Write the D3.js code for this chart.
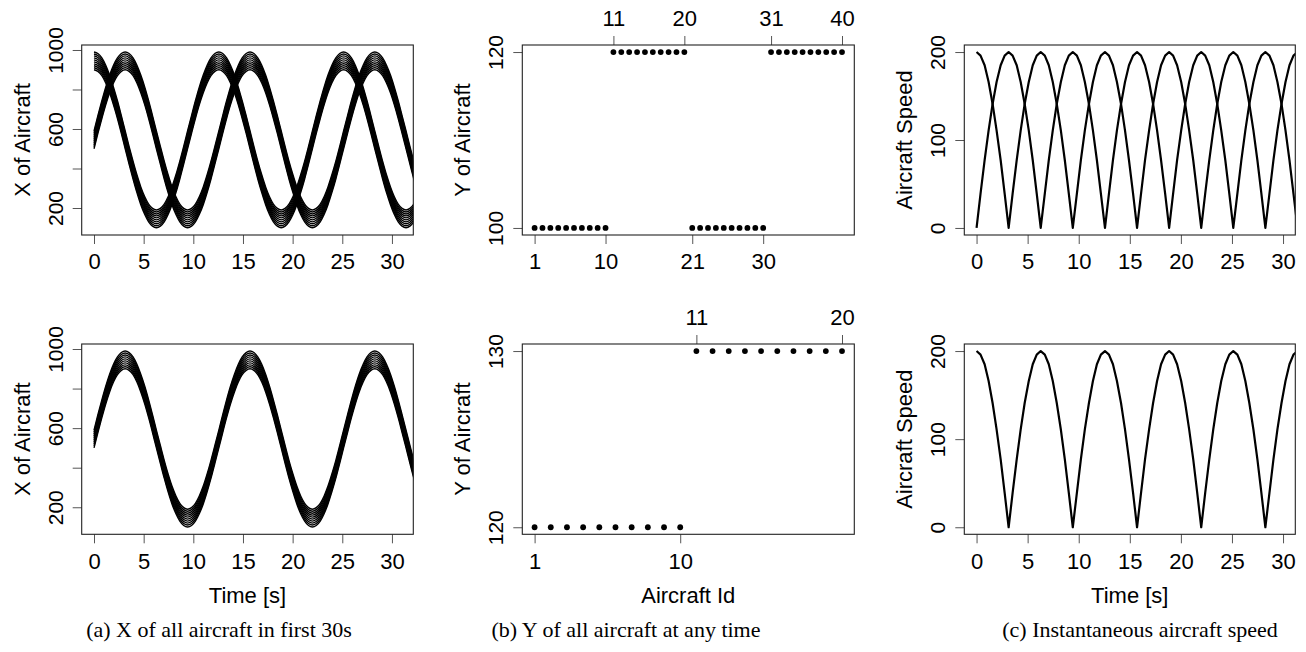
<!DOCTYPE html>
<html>
<head>
<meta charset="utf-8">
<script src="https://cdn.jsdelivr.net/npm/d3@7/dist/d3.min.js"></script>
<style>
  body { margin: 0; background: #fff; }
  svg { display: block; }
  .caption { font-family: "Liberation Serif", "DejaVu Serif", serif; font-size: 22px; }
</style>
</head>
<body>
<svg id="chart" width="1306" height="652"></svg>
<script>
// sample times [s] (one sample every pi/8 s)
const timeSec = [0.00, 0.39, 0.79, 1.18, 1.57, 1.96, 2.36, 2.75, 3.14, 3.53, 3.93, 4.32, 4.71, 5.11, 5.50, 5.89,
  6.28, 6.68, 7.07, 7.46, 7.85, 8.25, 8.64, 9.03, 9.42, 9.82, 10.21, 10.60, 11.00, 11.39, 11.78, 12.17,
  12.57, 12.96, 13.35, 13.74, 14.14, 14.53, 14.92, 15.32, 15.71, 16.10, 16.49, 16.89, 17.28, 17.67, 18.06, 18.46,
  18.85, 19.24, 19.63, 20.03, 20.42, 20.81, 21.21, 21.60, 21.99, 22.38, 22.78, 23.17, 23.56, 23.95, 24.35, 24.74,
  25.13, 25.53, 25.92, 26.31, 26.70, 27.10, 27.49, 27.88, 28.27, 28.67, 29.06, 29.45, 29.85, 30.24, 30.63, 31.02,
  31.42, 31.81, 32.20, 32.59];

// X swing around the start position, band that starts rising
const swingRise = [0, 78, 153, 222, 283, 333, 370, 392, 400, 392, 370, 333, 283, 222, 153, 78,
  0, -78, -153, -222, -283, -333, -370, -392, -400, -392, -370, -333, -283, -222, -153, -78,
  0, 78, 153, 222, 283, 333, 370, 392, 400, 392, 370, 333, 283, 222, 153, 78,
  0, -78, -153, -222, -283, -333, -370, -392, -400, -392, -370, -333, -283, -222, -153, -78,
  0, 78, 153, 222, 283, 333, 370, 392, 400, 392, 370, 333, 283, 222, 153, 78,
  0, -78, -153, -222];
// X swing, band that starts at the top
const swingFall = [400, 392, 370, 333, 283, 222, 153, 78, 0, -78, -153, -222, -283, -333, -370, -392,
  -400, -392, -370, -333, -283, -222, -153, -78, 0, 78, 153, 222, 283, 333, 370, 392,
  400, 392, 370, 333, 283, 222, 153, 78, 0, -78, -153, -222, -283, -333, -370, -392,
  -400, -392, -370, -333, -283, -222, -153, -78, 0, 78, 153, 222, 283, 333, 370, 392,
  400, 392, 370, 333, 283, 222, 153, 78, 0, -78, -153, -222, -283, -333, -370, -392,
  -400, -392, -370, -333];
// start X of the aircraft inside one band
const startX = [500, 510, 520, 530, 540, 550, 560, 570, 580, 590];

// speed of the rising band / of the falling band
const speedRise = [200, 196, 185, 166, 141, 111, 77, 39, 0, 39, 77, 111, 141, 166, 185, 196,
  200, 196, 185, 166, 141, 111, 77, 39, 0, 39, 77, 111, 141, 166, 185, 196,
  200, 196, 185, 166, 141, 111, 77, 39, 0, 39, 77, 111, 141, 166, 185, 196,
  200, 196, 185, 166, 141, 111, 77, 39, 0, 39, 77, 111, 141, 166, 185, 196,
  200, 196, 185, 166, 141, 111, 77, 39, 0, 39, 77, 111, 141, 166, 185, 196,
  200, 196, 185, 166];
const speedFall = [0, 39, 77, 111, 141, 166, 185, 196, 200, 196, 185, 166, 141, 111, 77, 39,
  0, 39, 77, 111, 141, 166, 185, 196, 200, 196, 185, 166, 141, 111, 77, 39,
  0, 39, 77, 111, 141, 166, 185, 196, 200, 196, 185, 166, 141, 111, 77, 39,
  0, 39, 77, 111, 141, 166, 185, 196, 200, 196, 185, 166, 141, 111, 77, 39,
  0, 39, 77, 111, 141, 166, 185, 196, 200, 196, 185, 166, 141, 111, 77, 39,
  0, 39, 77, 111];

// Y of each aircraft
const idsTop = [1, 2, 3, 4, 5, 6, 7, 8, 9, 10, 11, 12, 13, 14, 15, 16, 17, 18, 19, 20,
  21, 22, 23, 24, 25, 26, 27, 28, 29, 30, 31, 32, 33, 34, 35, 36, 37, 38, 39, 40];
const yTop = [100, 100, 100, 100, 100, 100, 100, 100, 100, 100, 120, 120, 120, 120, 120, 120, 120, 120, 120, 120,
  100, 100, 100, 100, 100, 100, 100, 100, 100, 100, 120, 120, 120, 120, 120, 120, 120, 120, 120, 120];
const idsBottom = [1, 2, 3, 4, 5, 6, 7, 8, 9, 10, 11, 12, 13, 14, 15, 16, 17, 18, 19, 20];
const yBottom = [120, 120, 120, 120, 120, 120, 120, 120, 120, 120, 130, 130, 130, 130, 130, 130, 130, 130, 130, 130];

// ticks
const timeTicks = [0, 5, 10, 15, 20, 25, 30];
const xPosTicks = [200, 400, 600, 800, 1000];
const xPosLabels = [200, 600, 1000];
const speedTicks = [0, 100, 200];

const captions = ["(a) X of all aircraft in first 30s", "(b) Y of all aircraft at any time", "(c) Instantaneous aircraft speed"];

const svg = d3.select("#chart");
const FONT = "'Liberation Sans', Arial, Helvetica, sans-serif";

function makePanel(p) {
  const x = d3.scaleLinear().domain(p.xDomain).range([p.left, p.right]);
  const y = d3.scaleLinear().domain(p.yDomain).range([p.bottom, p.top]);
  const g = svg.append("g");

  svg.append("clipPath").attr("id", "clip" + p.id)
    .append("rect")
    .attr("x", p.left).attr("y", p.top)
    .attr("width", p.right - p.left).attr("height", p.bottom - p.top);
  const plot = g.append("g").attr("clip-path", `url(#clip${p.id})`);

  // bottom axis
  const bx = g.append("g")
    .attr("transform", `translate(0,${p.bottom})`)
    .call(d3.axisBottom(x).tickValues(p.xTicks).tickSize(9).tickPadding(9.8));
  styleAxis(bx);

  // top axis (panel b only)
  if (p.topTicks) {
    const tx = g.append("g")
      .attr("transform", `translate(0,${p.top})`)
      .call(d3.axisTop(x).tickValues(p.topTicks).tickSize(9).tickPadding(10.5));
    styleAxis(tx);
  }

  // left axis, labels turned like R does
  const ly = g.append("g")
    .attr("transform", `translate(${p.left},0)`)
    .call(d3.axisLeft(y).tickValues(p.yTicks).tickSize(9)
      .tickFormat(d => (p.yLabels || p.yTicks).includes(d) ? d : ""));
  styleAxis(ly);
  ly.selectAll(".tick text")
    .attr("x", 0).attr("dy", "0.36em")
    .attr("text-anchor", "middle")
    .attr("font-size", 21)
    .attr("transform", "translate(-26.5,0) rotate(-90)");

  g.append("text")
    .attr("transform", `translate(${p.left - 52},${(p.top + p.bottom) / 2}) rotate(-90)`)
    .attr("text-anchor", "middle")
    .style("font-family", FONT).style("font-size", "22px")
    .text(p.yTitle);

  if (p.xTitle) {
    g.append("text")
      .attr("x", (p.left + p.right) / 2)
      .attr("y", 603)
      .attr("text-anchor", "middle")
      .style("font-family", FONT).style("font-size", "22px")
      .text(p.xTitle);
  }

  return { g, plot, x, y, p };
}

function styleAxis(a) {
  a.attr("font-family", FONT).attr("font-size", 22);
  a.select(".domain").remove();
  a.selectAll(".tick line").attr("stroke", "#555");
  a.selectAll(".tick text").attr("fill", "#000");
}

function drawBox(pan) {
  const p = pan.p;
  pan.g.append("rect")
    .attr("x", p.left).attr("y", p.top)
    .attr("width", p.right - p.left).attr("height", p.bottom - p.top)
    .attr("fill", "none").attr("stroke", "#222").attr("stroke-width", 1.1);
}

function drawBands(pan, swings) {
  swings.forEach(swing => {
    startX.forEach(x0 => {
      const line = d3.line()
        .x((d, i) => pan.x(timeSec[i]))
        .y(d => pan.y(x0 + d))
        .curve(d3.curveMonotoneX);
      pan.plot.append("path")
        .attr("d", line(swing))
        .attr("fill", "none")
        .attr("stroke", "#000")
        .attr("stroke-width", 1.4);
    });
  });
}

function drawSpeed(pan, speeds) {
  speeds.forEach(sp => {
    const line = d3.line()
      .x((d, i) => pan.x(timeSec[i]))
      .y(d => pan.y(d));
    pan.plot.append("path")
      .attr("d", line(sp))
      .attr("fill", "none")
      .attr("stroke", "#000")
      .attr("stroke-width", 2.2)
      .attr("stroke-linejoin", "round");
  });
}

function drawDots(pan, ids, ys) {
  pan.plot.selectAll("circle.dot")
    .data(ids)
    .enter().append("circle")
    .attr("class", "dot")
    .attr("cx", d => pan.x(d))
    .attr("cy", (d, i) => pan.y(ys[i]))
    .attr("r", 2.9)
    .attr("fill", "#000");
}

// ---- column a: X position ----
const aTop = makePanel({ id: "a1", left: 81.7, right: 413.3, top: 45, bottom: 235,
  xDomain: [-1.24, 32.15], yDomain: [63.3, 1025.3],
  xTicks: timeTicks, yTicks: xPosTicks, yLabels: xPosLabels, yTitle: "X of Aircraft" });
drawBands(aTop, [swingRise, swingFall]);
drawBox(aTop);

const aBot = makePanel({ id: "a2", left: 81.7, right: 413.3, top: 344, bottom: 534.3,
  xDomain: [-1.24, 32.15], yDomain: [63.3, 1025.3],
  xTicks: timeTicks, yTicks: xPosTicks, yLabels: xPosLabels, yTitle: "X of Aircraft", xTitle: "Time [s]" });
drawBands(aBot, [swingRise]);
drawBox(aBot);

// ---- column b: Y position per aircraft ----
const bTop = makePanel({ id: "b1", left: 522.3, right: 854.3, top: 45, bottom: 235,
  xDomain: [-0.56, 41.56], yDomain: [99.2, 120.8],
  xTicks: [1, 10, 21, 30], topTicks: [11, 20, 31, 40], yTicks: [100, 120], yTitle: "Y of Aircraft" });
drawDots(bTop, idsTop, yTop);
drawBox(bTop);

const bBot = makePanel({ id: "b2", left: 522.3, right: 854.3, top: 344, bottom: 534.3,
  xDomain: [0.24, 20.76], yDomain: [119.6, 130.4],
  xTicks: [1, 10], topTicks: [11, 20], yTicks: [120, 130], yTitle: "Y of Aircraft", xTitle: "Aircraft Id" });
drawDots(bBot, idsBottom, yBottom);
drawBox(bBot);

// ---- column c: speed ----
const cTop = makePanel({ id: "c1", left: 964.3, right: 1295.3, top: 45, bottom: 235,
  xDomain: [-1.2, 31.2], yDomain: [-8, 208],
  xTicks: timeTicks, yTicks: speedTicks, yTitle: "Aircraft Speed" });
drawSpeed(cTop, [speedRise, speedFall]);
drawBox(cTop);

const cBot = makePanel({ id: "c2", left: 964.3, right: 1295.3, top: 344, bottom: 534.3,
  xDomain: [-1.2, 31.2], yDomain: [-8, 208],
  xTicks: timeTicks, yTicks: speedTicks, yTitle: "Aircraft Speed", xTitle: "Time [s]" });
drawSpeed(cBot, [speedRise]);
drawBox(cBot);

// captions under the three sub-figures
const captionX = [219, 626, 1140];
svg.selectAll("text.caption")
  .data(captions)
  .enter().append("text")
  .attr("class", "caption")
  .attr("x", (d, i) => captionX[i])
  .attr("y", 637)
  .attr("text-anchor", "middle")
  .text(d => d);
</script>
</body>
</html>
